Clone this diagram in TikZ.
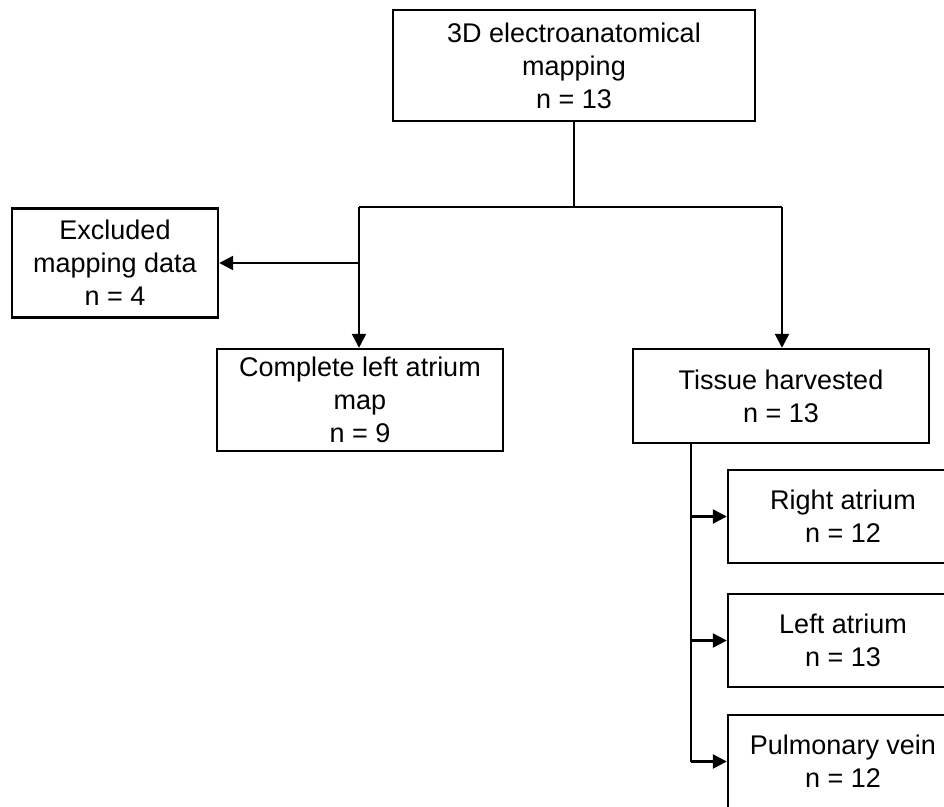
\documentclass[tikz,border=0pt]{standalone}
\usepackage{fontspec}
\setmainfont{Liberation Sans}
\usetikzlibrary{arrows.meta}
\begin{document}
\begin{tikzpicture}[x=1pt,y=-1pt,
  box/.style={draw,line width=2.4pt,inner sep=0pt,align=center,
    font=\fontsize{27}{33}\selectfont},
  conn/.style={line width=2.4pt},
  arr/.style={conn,-{Triangle[length=14pt,width=14pt]}}]
\clip (0,0) rectangle (944,806);
\fill[white] (0,0) rectangle (944,806);
\node[box,minimum width=362pt,minimum height=111pt] (top) at (574,65.5)
  {3D electroanatomical\\mapping\\n = 13};
\node[box,minimum width=206pt,minimum height=109pt] (excl) at (115,263)
  {Excluded\\mapping data\\n = 4};
\node[box,minimum width=286pt,minimum height=102pt] (comp) at (360,400)
  {Complete left atrium\\map\\n = 9};
\node[box,minimum width=296pt,minimum height=94pt] (tis) at (781,396)
  {Tissue harvested\\n = 13};
\node[box,minimum width=230pt,minimum height=93pt] (ra) at (843,516.5)
  {Right atrium\\n = 12};
\node[box,minimum width=230pt,minimum height=93pt] (la) at (843,640.5)
  {Left atrium\\n = 13};
\node[box,minimum width=230pt,minimum height=93pt] (pv) at (843,761.5)
  {Pulmonary vein\\n = 12};
\coordinate (jl) at (359,207);
\coordinate (jr) at (782,207);
\coordinate (jm) at (top.south |- jl);
\coordinate (ja) at (359,263);
\coordinate (tv) at (691,443);
\draw[conn] (top.south) -- (jm);
\draw[conn] (jl) -- (jr);
\draw[arr] (jl) -- (jl |- comp.north);
\draw[arr] (ja) -- (excl.east |- ja);
\draw[arr] (jr) -- (jr |- tis.north);
\draw[conn] (tv) -- (tv |- pv.west);
\draw[arr] (tv |- ra.west) -- (ra.west);
\draw[arr] (tv |- la.west) -- (la.west);
\draw[arr] (tv |- pv.west) -- (pv.west);
\end{tikzpicture}
\end{document}
